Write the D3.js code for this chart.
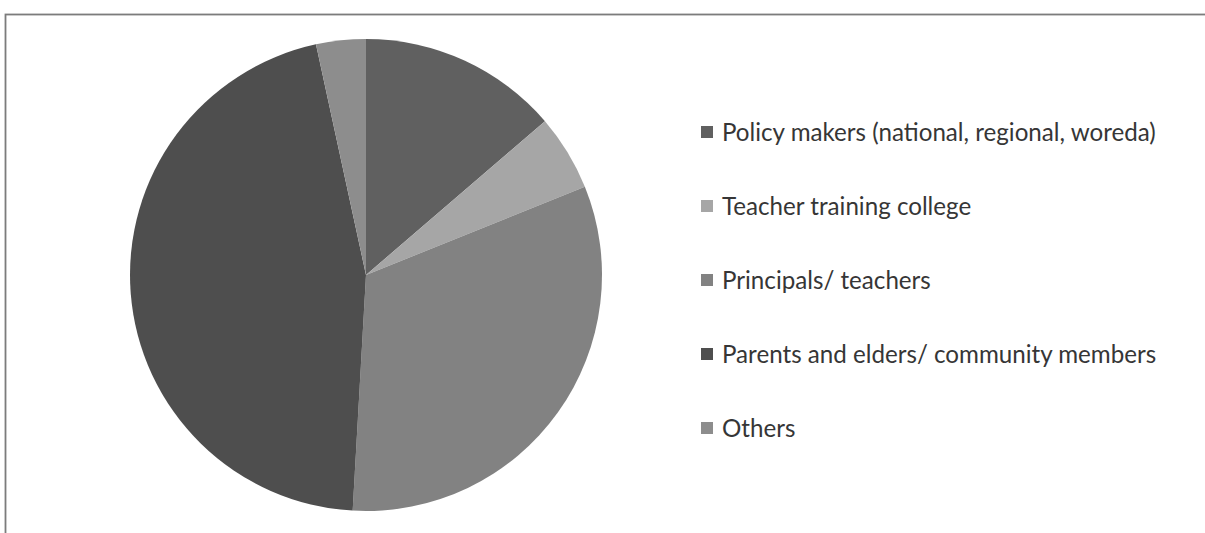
<!DOCTYPE html>
<html>
<head>
<meta charset="utf-8">
<script src="https://cdn.jsdelivr.net/npm/d3@7"></script>
<style>
  body { margin: 0; background: #fff; }
</style>
</head>
<body>
<script>
var width = 1205;
var height = 533;

// shares (percent)
var categories = [
  "Policy makers (national, regional, woreda)",
  "Teacher training college",
  "Principals/ teachers",
  "Parents and elders/ community members",
  "Others"
];
var values = [13.7, 5.2, 32.0, 45.7, 3.4];
var colors = ["#606060", "#a6a6a6", "#828282", "#4e4e4e", "#8d8d8d"];

var svg = d3.select("body")
  .append("svg")
  .attr("width", width)
  .attr("height", height);

// chart frame, runs off the right and bottom edges
svg.append("rect")
  .attr("x", 5.5)
  .attr("y", 14.5)
  .attr("width", width + 20)
  .attr("height", height + 20)
  .attr("fill", "#fff")
  .attr("stroke", "#7c7c7c")
  .attr("stroke-width", 1.8);

var cx = 366, cy = 275, radius = 236;

var pie = d3.pie()
  .sort(null)
  .value(function(d) { return d; });

var arc = d3.arc()
  .innerRadius(0)
  .outerRadius(radius);

var color = d3.scaleOrdinal()
  .domain(d3.range(categories.length))
  .range(colors);

svg.append("g")
  .attr("transform", "translate(" + cx + "," + cy + ")")
  .selectAll("path")
  .data(pie(values))
  .enter().append("path")
    .attr("d", arc)
    .attr("fill", function(d, i) { return color(i); });

// legend
var legendY = d3.scalePoint()
  .domain(categories)
  .range([132, 428]);

var legend = svg.append("g")
  .selectAll("g")
  .data(categories)
  .enter().append("g")
    .attr("transform", function(d) { return "translate(701," + legendY(d) + ")"; });

legend.append("rect")
  .attr("x", 0)
  .attr("y", -6)
  .attr("width", 12)
  .attr("height", 12)
  .attr("fill", function(d, i) { return color(i); });

var labels = legend.append("text")
  .attr("x", 21)
  .attr("y", 0)
  .attr("dy", "0.36em")
  .attr("fill", "#363636")
  .style("font-family", "Lato, 'Open Sans', sans-serif")
  .style("font-size", "20px")
  .text(function(d) { return d; });

// fit the longest label to the width seen in the picture (~434px)
var w = labels.nodes()[0].getComputedTextLength();
labels.style("font-size", (20 * 434 / w) + "px");
</script>
</body>
</html>
